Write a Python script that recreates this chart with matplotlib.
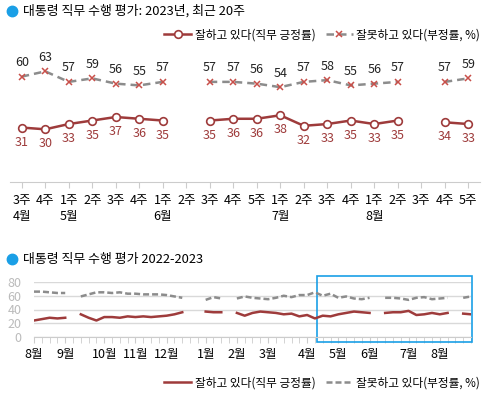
import numpy as np
import matplotlib.pyplot as plt
from matplotlib.lines import Line2D
from matplotlib.patches import Rectangle
import matplotlib.transforms as mtransforms

plt.rcParams['font.family'] = ['Noto Sans CJK KR', 'DejaVu Sans']

# === DATA ===
# top chart: last 20 weeks of 2023
weeks = ["3주", "4주", "1주", "2주", "3주", "4주", "1주", "2주", "3주", "4주",
         "5주", "1주", "2주", "3주", "4주", "1주", "2주", "3주", "4주", "5주"]
week_months = {0: "4월", 2: "5월", 6: "6월", 11: "7월", 15: "8월"}
pos_20 = [31, 30, 33, 35, 37, 36, 35, None, 35, 36,
          36, 38, 32, 33, 35, 33, 35, None, 34, 33]
neg_20 = [60, 63, 57, 59, 56, 55, 57, None, 57, 57,
          56, 54, 57, 58, 55, 56, 57, None, 57, 59]

# bottom chart: weekly 2022.8 - 2023.8 (57 weeks), last 20 = top chart
pos_early = [24, 26, 28, 27, 28, None,
             33, 28, 24, 29, 29, 28, 30, 29, 30, 29, 30, 31, 33, 36,
             None, None, 37, 36, 36, None,
             35, 31, 35, 37, 36, 35, 33, 34, 30, 32, 27]
neg_early = [66, 66, 65, 64, 64, None,
             59, 62, 65, 65, 64, 65, 63, 63, 62, 62, 62, 61, 59, 57,
             None, None, 54, 58, 56, None,
             56, 59, 57, 56, 55, 57, 60, 58, 61, 61, 65]
month_ticks = [0, 4, 9, 13, 17, 22, 26, 30, 35, 39, 43, 48, 52]
month_labels = ["8월", "9월", "10월", "11월", "12월", "1월", "2월", "3월",
                "4월", "5월", "6월", "7월", "8월"]

RED = "#9E3B3B"
XRED = "#C8504A"
GRAY = "#8C8C8C"
BLUE = "#1A9FE6"


def arr(v):
    return np.array([np.nan if a is None else a for a in v], dtype=float)


W, H = 485, 396
fig = plt.figure(figsize=(W / 100, H / 100), dpi=100)

# === titles ===
for ty, title in [(11, "대통령 직무 수행 평가: 2023년, 최근 20주"),
                  (259, "대통령 직무 수행 평가 2022-2023")]:
    fig.add_artist(Line2D([12.5 / W], [1 - ty / H], marker="o", ms=7.5,
                          color=BLUE, transform=fig.transFigure))
    fig.text(23 / W, 1 - ty / H, title, fontsize=9.3, va="center", ha="left")

# === top chart ===
ax1 = fig.add_axes([10 / W, 1 - 182 / H, 470 / W, 137 / H])
x = np.arange(len(weeks))
p = arr(pos_20)
n = arr(neg_20)
ax1.plot(x, n, color=GRAY, lw=1.8, ls=(0, (3, 2)), marker="x", ms=5,
         mec=XRED, mew=1.1, label="잘못하고 있다(부정률, %)")
ax1.plot(x, p, color=RED, lw=1.8, marker="o", ms=5.5, mfc="white",
         mec=RED, mew=1.2, label="잘하고 있다(직무 긍정률)")
for i in range(len(x)):
    if not np.isnan(n[i]):
        ax1.annotate(f"{int(n[i])}", (x[i], n[i]), xytext=(0, 10),
                     textcoords="offset points", ha="center", va="center",
                     fontsize=9, color="#222222")
    if not np.isnan(p[i]):
        ax1.annotate(f"{int(p[i])}", (x[i], p[i]), xytext=(0, -10.5),
                     textcoords="offset points", ha="center", va="center",
                     fontsize=9, color=RED)
ax1.set_xlim(-0.5, len(weeks) - 0.5)
ax1.set_ylim(0, 78)
ax1.set_yticks([])
for s in ["left", "top", "right"]:
    ax1.spines[s].set_visible(False)
ax1.spines["bottom"].set_color("#CCCCCC")
ax1.set_xticks(x)
ax1.set_xticklabels(weeks, fontsize=9)
ax1.tick_params(axis="x", length=4, color="#CCCCCC", pad=5)
trans = mtransforms.blended_transform_factory(ax1.transData, ax1.transAxes)
for i, m in week_months.items():
    ax1.text(i, -0.255, m, transform=trans, ha="center", va="center", fontsize=9)

h, l = ax1.get_legend_handles_labels()
fig.legend([h[1], h[0]], [l[1], l[0]], loc="center right", ncol=2,
           bbox_to_anchor=(480 / W, 1 - 35 / H), frameon=False, fontsize=8.4,
           handlelength=2.3, columnspacing=0.9, handletextpad=0.3,
           borderaxespad=0, borderpad=0)

# === bottom chart ===
pos_all = arr(pos_early + pos_20)
neg_all = arr(neg_early + neg_20)
xa = np.arange(len(pos_all))
ax2 = fig.add_axes([34 / W, 1 - 337 / H, 437 / W, 55 / H])
ax2.plot(xa, neg_all, color=GRAY, lw=1.8, ls=(0, (2.4, 1.2)))
ax2.plot(xa, pos_all, color=RED, lw=1.8)
ax2.set_xlim(0, len(xa) - 1)
ax2.set_ylim(0, 80)
ax2.set_yticks([0, 20, 40, 60, 80])
ax2.grid(axis="y", color="#D9D9D9", lw=1)
ax2.set_axisbelow(True)
for s in ["left", "top", "right"]:
    ax2.spines[s].set_visible(False)
ax2.spines["bottom"].set_color("#CCCCCC")
ax2.tick_params(axis="y", length=0, labelcolor="#BBBBBB", labelsize=9, pad=9)
ax2.set_xticks(month_ticks)
ax2.set_xticklabels(month_labels, fontsize=9)
ax2.set_xticks(xa, minor=True)
ax2.tick_params(axis="x", which="both", length=4, color="#CCCCCC", pad=4)

start = len(pos_early) - 0.7
ax2.add_patch(Rectangle((start, -7.3), len(xa) - 1 + 0.15 - start, 96,
                        fill=False, edgecolor=BLUE, lw=1.2, clip_on=False))

fig.legend([Line2D([], [], color=RED, lw=1.8),
            Line2D([], [], color=GRAY, lw=1.8, ls=(0, (2.4, 1.2)))],
           ["잘하고 있다(직무 긍정률)", "잘못하고 있다(부정률, %)"],
           loc="center right", ncol=2, bbox_to_anchor=(480 / W, 1 - 383 / H),
           frameon=False, fontsize=8.4, handlelength=2.3, columnspacing=0.9,
           handletextpad=0.3, borderaxespad=0, borderpad=0)

fig.savefig("out.png", dpi=100)
